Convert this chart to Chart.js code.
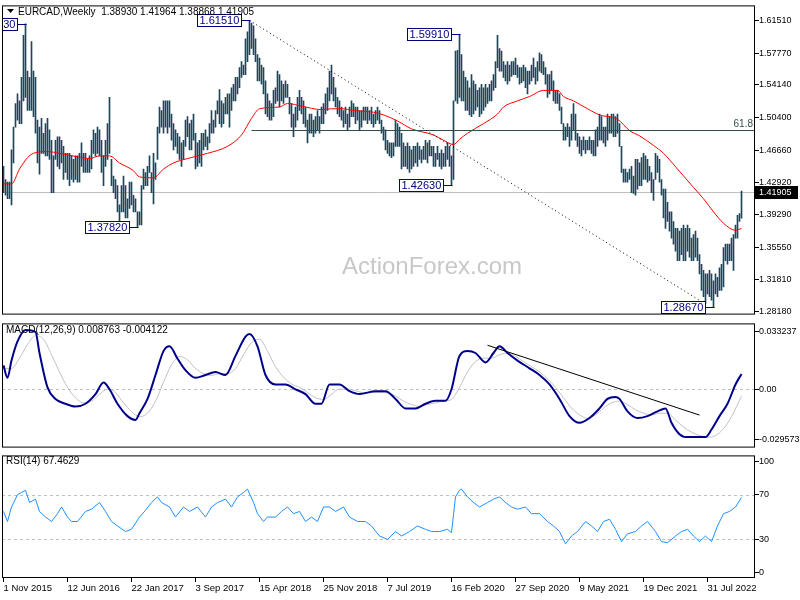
<!DOCTYPE html>
<html>
<head>
<meta charset="utf-8">
<script src="https://cdn.jsdelivr.net/npm/chart.js@4"></script>
<style>
  html, body { margin: 0; padding: 0; background: #fff; }
  #wrap { position: relative; width: 800px; height: 600px; overflow: hidden; }
  canvas { position: absolute; left: 0; }
</style>
</head>
<body>
<div id="wrap">
  <canvas id="priceChart" width="800" height="320" style="top:0"></canvas>
  <canvas id="macdChart" width="800" height="135" style="top:318px"></canvas>
  <canvas id="rsiChart" width="800" height="150" style="top:450px"></canvas>
</div>
<script>
"use strict";

// ---------------- DATA ----------------
// weekly bars, Nov 2015 .. Nov 2022 (bar index 0..369)
const highs = [
  1.448,1.433,1.430,1.430,1.467,1.493,1.520,1.531,1.523,1.550,
  1.598,1.6113,1.557,1.550,1.591,1.557,1.550,1.501,1.493,1.503,
  1.486,1.497,1.503,1.490,1.478,1.460,1.478,1.482,1.482,1.478,
  1.471,1.463,1.463,1.463,1.460,1.456,1.460,1.460,1.463,1.475,
  1.463,1.463,1.456,1.460,1.478,1.490,1.486,1.493,1.490,1.478,
  1.460,1.478,1.497,1.527,1.456,1.437,1.433,1.426,1.404,1.426,
  1.437,1.426,1.411,1.430,1.430,1.415,1.411,1.396,1.396,1.426,
  1.445,1.441,1.448,1.460,1.441,1.463,1.452,1.493,1.516,1.512,
  1.523,1.523,1.523,1.523,1.508,1.497,1.490,1.486,1.482,1.475,
  1.478,1.501,1.505,1.497,1.501,1.508,1.486,1.475,1.478,1.486,
  1.486,1.490,1.482,1.497,1.512,1.501,1.512,1.523,1.536,1.523,
  1.520,1.527,1.531,1.531,1.538,1.542,1.550,1.550,1.561,1.568,
  1.564,1.594,1.602,1.6151,1.612,1.609,1.594,1.576,1.572,1.564,
  1.561,1.546,1.531,1.523,1.520,1.535,1.538,1.557,1.553,1.546,
  1.542,1.546,1.542,1.527,1.520,1.508,1.516,1.527,1.535,1.527,
  1.523,1.516,1.501,1.508,1.508,1.501,1.505,1.512,1.505,1.516,
  1.520,1.531,1.538,1.557,1.564,1.550,1.538,1.527,1.523,1.516,
  1.512,1.516,1.508,1.516,1.523,1.520,1.516,1.516,1.512,1.512,
  1.516,1.516,1.516,1.512,1.516,1.508,1.512,1.516,1.512,1.501,
  1.493,1.490,1.478,1.475,1.475,1.475,1.501,1.497,1.493,1.486,
  1.475,1.471,1.475,1.471,1.467,1.471,1.471,1.475,1.471,1.467,
  1.471,1.478,1.475,1.478,1.471,1.471,1.463,1.471,1.463,1.467,
  1.463,1.471,1.475,1.471,1.460,1.523,1.580,1.581,1.5991,1.576,
  1.557,1.550,1.546,1.538,1.553,1.546,1.542,1.535,1.538,1.542,
  1.538,1.542,1.538,1.542,1.546,1.553,1.568,1.598,1.583,1.580,
  1.568,1.564,1.568,1.564,1.568,1.568,1.572,1.564,1.561,1.561,
  1.564,1.561,1.557,1.557,1.564,1.572,1.561,1.568,1.578,1.576,
  1.568,1.561,1.553,1.553,1.557,1.546,1.535,1.535,1.531,1.516,
  1.497,1.493,1.497,1.493,1.508,1.520,1.508,1.486,1.482,1.478,
  1.482,1.478,1.478,1.482,1.478,1.478,1.490,1.493,1.508,1.505,
  1.493,1.493,1.508,1.505,1.508,1.508,1.505,1.508,1.497,1.471,
  1.445,1.445,1.441,1.445,1.448,1.437,1.456,1.456,1.452,1.458,
  1.463,1.460,1.456,1.448,1.441,1.433,1.463,1.460,1.456,1.433,
  1.422,1.422,1.407,1.396,1.396,1.385,1.377,1.377,1.374,1.377,
  1.381,1.377,1.381,1.377,1.366,1.370,1.374,1.366,1.347,1.336,
  1.329,1.325,1.325,1.329,1.325,1.317,1.325,1.321,1.332,1.336,
  1.355,1.359,1.359,1.359,1.366,1.370,1.381,1.392,1.394,1.41964
];
const lows = [
  1.418,1.415,1.411,1.411,1.404,1.452,1.493,1.501,1.497,1.497,
  1.523,1.527,1.512,1.512,1.512,1.505,1.486,1.452,1.439,1.463,
  1.463,1.460,1.460,1.456,1.418,1.418,1.456,1.448,1.445,1.452,
  1.433,1.441,1.433,1.426,1.433,1.430,1.433,1.430,1.430,1.448,
  1.441,1.441,1.441,1.441,1.445,1.463,1.460,1.463,1.460,1.441,
  1.426,1.448,1.456,1.463,1.426,1.418,1.411,1.396,1.385,1.396,
  1.396,1.389,1.389,1.400,1.404,1.396,1.396,1.3782,1.381,1.381,
  1.422,1.426,1.426,1.441,1.418,1.405,1.433,1.456,1.486,1.493,
  1.486,1.493,1.486,1.493,1.478,1.467,1.471,1.463,1.456,1.448,
  1.456,1.471,1.482,1.467,1.467,1.478,1.445,1.448,1.452,1.448,
  1.467,1.471,1.467,1.475,1.486,1.486,1.493,1.508,1.497,1.493,
  1.497,1.508,1.508,1.493,1.512,1.523,1.523,1.531,1.538,1.550,
  1.553,1.553,1.568,1.576,1.583,1.576,1.568,1.546,1.546,1.542,
  1.531,1.508,1.505,1.501,1.501,1.505,1.520,1.523,1.516,1.523,
  1.520,1.527,1.527,1.508,1.493,1.482,1.493,1.501,1.512,1.508,
  1.497,1.493,1.475,1.486,1.486,1.482,1.486,1.490,1.486,1.497,
  1.497,1.508,1.512,1.523,1.531,1.523,1.516,1.508,1.505,1.501,
  1.493,1.497,1.490,1.493,1.505,1.505,1.497,1.501,1.490,1.493,
  1.501,1.501,1.497,1.501,1.497,1.493,1.497,1.501,1.497,1.486,
  1.478,1.467,1.463,1.460,1.458,1.460,1.471,1.471,1.471,1.445,
  1.448,1.448,1.445,1.441,1.445,1.448,1.452,1.448,1.456,1.452,
  1.456,1.456,1.452,1.460,1.460,1.448,1.448,1.456,1.448,1.445,
  1.448,1.448,1.456,1.448,1.4263,1.433,1.523,1.520,1.527,1.523,
  1.523,1.512,1.512,1.507,1.505,1.508,1.512,1.516,1.505,1.508,
  1.512,1.516,1.520,1.523,1.523,1.535,1.538,1.561,1.557,1.557,
  1.550,1.546,1.542,1.546,1.551,1.553,1.553,1.550,1.542,1.544,
  1.546,1.538,1.531,1.542,1.546,1.550,1.542,1.546,1.557,1.555,
  1.553,1.542,1.527,1.531,1.535,1.523,1.520,1.520,1.512,1.497,
  1.478,1.478,1.482,1.471,1.478,1.490,1.478,1.471,1.463,1.460,
  1.467,1.463,1.467,1.467,1.463,1.460,1.460,1.471,1.478,1.478,
  1.475,1.471,1.478,1.486,1.486,1.482,1.482,1.486,1.471,1.441,
  1.430,1.430,1.430,1.433,1.418,1.417,1.415,1.422,1.426,1.426,
  1.433,1.433,1.430,1.432,1.418,1.409,1.433,1.441,1.430,1.415,
  1.389,1.377,1.385,1.374,1.366,1.359,1.351,1.340,1.340,1.347,
  1.340,1.340,1.351,1.344,1.340,1.340,1.344,1.340,1.325,1.306,
  1.299,1.291,1.302,1.299,1.295,1.2867,1.302,1.299,1.306,1.306,
  1.310,1.340,1.336,1.340,1.340,1.329,1.366,1.366,1.385,1.38868
];

// moving average (red)
const maIdx = [0,4,8,12,15,22,28,37,43,48,53,58,65,68,75,80,85,92,102,112,
  119,124,128,138,142,149,159,164,169,175,185,190,197,204,215,220,225,228,232,240,
  247,250,257,263,270,277,280,285,292,298,307,313,318,325,330,337,345,350,355,360,366,369];
const maVal = [1.428,1.428,1.445,1.458,1.463,1.465,1.463,1.459,1.457,1.460,
  1.460,1.452,1.443,1.436,1.435,1.445,1.452,1.457,1.463,1.471,
  1.484,1.503,1.514,1.516,1.520,1.517,1.513,1.514,1.514,1.512,
  1.510,1.507,1.500,1.491,1.484,1.478,1.473,1.479,1.486,1.497,
  1.508,1.516,1.523,1.528,1.535,1.535,1.528,1.523,1.514,1.507,
  1.502,1.489,1.483,1.472,1.463,1.445,1.424,1.411,1.396,1.383,1.375,1.377];

// MACD(12,26,9)
const macdIdx = [0,2,4,7,11,16,18,22,26,31,36,41,46,50,53,57,62,66,68,72,
  76,80,83,87,91,96,101,106,111,116,121,123,127,131,136,141,146,151,156,159,
  163,168,173,178,186,191,196,201,206,211,216,221,224,228,232,236,241,245,248,252,
  257,263,268,273,278,283,288,293,298,302,306,308,312,317,322,327,331,334,338,342,
  346,351,354,358,362,366,369];
const macdMain = [0.0138,0.0066,0.0166,0.0277,0.0344,0.0332,0.0210,0.0010,-0.0057,-0.0085,
  -0.0101,-0.0085,-0.0029,0.0038,-0.0001,-0.0085,-0.0157,-0.0179,-0.0140,-0.0057,
  0.0082,0.0221,0.0249,0.0177,0.0110,0.0066,0.0082,0.0099,0.0082,0.0193,
  0.0305,0.0321,0.0249,0.0082,0.0027,0.0027,-0.0001,-0.0029,-0.0085,-0.0085,
  0.0027,0.0027,-0.0012,-0.0029,-0.0012,-0.0012,-0.0057,-0.0112,-0.0112,-0.0085,
  -0.0068,-0.0068,-0.0001,0.0193,0.0221,0.0210,0.0155,0.0210,0.0249,0.0210,
  0.0166,0.0121,0.0082,0.0027,-0.0057,-0.0157,-0.0196,-0.0168,-0.0112,-0.0057,
  -0.0046,-0.0057,-0.0129,-0.0168,-0.0157,-0.0129,-0.0112,-0.0196,-0.0262,-0.0279,
  -0.0279,-0.0279,-0.0235,-0.0157,-0.0085,0.0027,0.008763];
const signalIdx = [0,4,8,12,16,20,24,28,32,36,40,44,48,52,56,60,64,68,72,76,
  80,84,88,92,96,100,104,108,112,116,120,124,128,132,136,140,144,148,152,156,
  160,164,168,172,176,180,184,188,192,196,200,204,208,212,216,220,224,228,232,236,
  240,244,248,252,256,260,264,268,272,276,280,284,288,292,296,300,304,308,312,316,
  320,324,328,332,336,340,344,348,352,356,360,364,369];
const signalVal = [0.012,0.012,0.018,0.026,0.031,0.029,0.020,0.010,0.001,-0.005,
  -0.008,-0.007,-0.003,0.000,-0.002,-0.008,-0.013,-0.016,-0.014,-0.007,
  0.004,0.014,0.019,0.017,0.012,0.009,0.008,0.009,0.009,0.012,
  0.020,0.027,0.029,0.022,0.013,0.007,0.003,0.001,-0.002,-0.005,
  -0.006,-0.003,0.000,0.000,-0.001,-0.002,-0.002,-0.002,-0.002,-0.004,
  -0.007,-0.009,-0.010,-0.009,-0.008,-0.007,-0.006,0.001,0.010,0.016,
  0.018,0.018,0.020,0.021,0.019,0.016,0.013,0.010,0.006,0.001,
  -0.005,-0.011,-0.015,-0.017,-0.015,-0.011,-0.008,-0.007,-0.009,-0.012,
  -0.014,-0.015,-0.014,-0.014,-0.018,-0.022,-0.025,-0.027,-0.028,-0.027,
  -0.023,-0.016,-0.004122];

// RSI(14)
const rsiIdx = [0,2,4,7,9,11,13,16,18,21,24,27,29,32,34,37,41,44,48,51,
  54,57,61,64,68,71,74,77,79,83,86,90,93,97,101,104,107,111,114,117,
  120,122,125,127,130,132,136,139,142,145,148,151,154,157,160,163,166,170,173,177,
  181,184,188,192,196,199,203,207,211,214,218,222,224,225,226,228,229,232,235,238,
  242,245,248,251,254,257,261,264,268,272,275,278,281,284,287,291,294,297,300,303,
  306,309,312,316,319,322,326,329,332,336,339,342,345,348,351,354,357,360,363,366,369];
const rsiVal = [55,46,59,70,72,74,63,66,55,50,46,53,59,50,46,46,55,57,63,55,
  46,42,37,39,50,56,63,68,63,59,50,59,55,59,50,59,63,66,59,68,
  72,75,63,53,46,50,50,55,59,53,55,46,50,46,59,59,55,59,50,46,
  46,42,33,30,37,33,37,42,39,37,37,39,36,52,68,74,75,68,63,59,
  63,66,68,63,59,57,59,53,53,46,42,37,26,33,37,46,42,37,46,48,
  39,28,35,37,42,46,37,28,27,33,37,39,33,28,33,28,42,53,55,59,67.4629];

// axis ticks
const priceTicks = [1.6151,1.5777,1.5414,1.504,1.4666,1.4292,1.3929,1.3555,1.3181,1.2818];
const macdTicks = [0.033237, 0, -0.029573];
const rsiTicks = [100, 70, 30, 0];
const rsiLevels = [70, 30];
const dateTickIdx = [0,32,64,96,128,160,192,224,256,288,320,352];
const dateLabels = ["1 Nov 2015","12 Jun 2016","22 Jan 2017","3 Sep 2017","15 Apr 2018","25 Nov 2018",
  "7 Jul 2019","16 Feb 2020","27 Sep 2020","9 May 2021","19 Dec 2021","31 Jul 2022"];

// annotations
const peakText = ["1.61130","1.61510","1.59910","1.42630","1.37820","1.28670"];
const peakIdx = [11,123,228,224,67,355];
const peakVal = [1.6113,1.6151,1.5991,1.4263,1.3782,1.2867];
const trendFrom = [123, 1.6151];
const trendTo = [352, 1.289];
const fibFromIdx = 124;
const fibLevel = 1.4896;
const lastOpen = 1.3893, lastHigh = 1.41964, lastLow = 1.38868, lastClose = 1.41905;
const macdTrendFrom = [242, 0.0255];
const macdTrendTo = [348, -0.0151];

// ---------------- SETUP ----------------
const FONT = "'Liberation Sans', Arial, sans-serif";
Chart.defaults.font.family = FONT;
Chart.defaults.font.size = 10;
Chart.defaults.color = "#000";
Chart.defaults.animation = false;

const X_MIN = -0.75, X_MAX = 375.75;
const BAR_COLOR = "#1e4659";

const pts = (idx, vals) => idx.map((x, k) => ({ x, y: vals[k] }));

const framePlugin = {
  id: "frame",
  afterDraw(chart) {
    const { ctx, chartArea: a } = chart;
    ctx.save();
    ctx.strokeStyle = "#000";
    ctx.lineWidth = 1;
    ctx.strokeRect(a.left + 0.5, a.top + 0.5, a.right - a.left - 1, a.bottom - a.top - 1);
    ctx.restore();
  },
};

function hiddenX() {
  return { type: "linear", min: X_MIN, max: X_MAX, offset: false, display: false };
}

function rightY(min, max, ticks, fmt) {
  return {
    type: "linear",
    position: "right",
    min,
    max,
    afterFit: (s) => { s.width = 45; },
    afterBuildTicks: (s) => { s.ticks = ticks.map((v) => ({ value: v })); },
    ticks: { autoSkip: false, padding: 0, callback: fmt, font: { size: 9 } },
    grid: { drawOnChartArea: false, drawTicks: true, tickLength: 4, color: "#000" },
    border: { display: false },
  };
}

function hLine(ctx, a, py, color, dash) {
  ctx.save();
  ctx.strokeStyle = color;
  ctx.lineWidth = 1;
  ctx.setLineDash(dash || []);
  ctx.beginPath();
  ctx.moveTo(a.left, Math.round(py) + 0.5);
  ctx.lineTo(a.right, Math.round(py) + 0.5);
  ctx.stroke();
  ctx.restore();
}

// ---------------- PRICE PANEL ----------------
const pricePlugin = {
  id: "priceNotes",
  beforeDatasetsDraw(chart) {
    const { ctx, chartArea: a, scales: { y } } = chart;
    ctx.save();
    ctx.fillStyle = "#c8c8c8";
    ctx.font = "24px " + FONT;
    ctx.textAlign = "center";
    ctx.textBaseline = "middle";
    ctx.fillText("ActionForex.com", 432, 267);
    ctx.restore();
    hLine(ctx, a, y.getPixelForValue(lastClose), "#c0c0c0");
  },
  afterDatasetsDraw(chart) {
    const { ctx, chartArea: a, scales: { x, y } } = chart;
    ctx.save();
    ctx.beginPath();
    ctx.rect(a.left, a.top, a.right - a.left, a.bottom - a.top);
    ctx.clip();

    // 61.8 retracement
    const fy = Math.round(y.getPixelForValue(fibLevel)) + 0.5;
    ctx.strokeStyle = "#2f4f4f";
    ctx.beginPath();
    ctx.moveTo(x.getPixelForValue(fibFromIdx), fy);
    ctx.lineTo(a.right, fy);
    ctx.stroke();
    ctx.fillStyle = "#2f4f4f";
    ctx.font = "10px " + FONT;
    ctx.textAlign = "right";
    ctx.textBaseline = "bottom";
    ctx.fillText("61.8", a.right - 2, fy - 1);

    // dotted trend line
    ctx.strokeStyle = "#000";
    ctx.setLineDash([1, 3]);
    ctx.beginPath();
    ctx.moveTo(x.getPixelForValue(trendFrom[0]), y.getPixelForValue(trendFrom[1]));
    ctx.lineTo(x.getPixelForValue(trendTo[0]), y.getPixelForValue(trendTo[1]));
    ctx.stroke();
    ctx.setLineDash([]);

    // swing labels
    ctx.font = "11px " + FONT;
    ctx.textAlign = "left";
    ctx.textBaseline = "middle";
    peakText.forEach((t, k) => {
      const px = Math.round(x.getPixelForValue(peakIdx[k]));
      const py = Math.round(y.getPixelForValue(peakVal[k]));
      const w = Math.round(ctx.measureText(t).width) + 4;
      const bx = px - 9 - w;
      const by = py - 6;
      ctx.fillStyle = "#fff";
      ctx.fillRect(bx, by, w, 12);
      ctx.strokeStyle = "#000080";
      ctx.strokeRect(bx + 0.5, by + 0.5, w, 12);
      ctx.beginPath();
      ctx.moveTo(bx + w + 0.5, py + 0.5);
      ctx.lineTo(px + 0.5, py + 0.5);
      ctx.stroke();
      ctx.fillStyle = "#000080";
      ctx.fillText(t, bx + 2.5, py + 1);
    });
    ctx.restore();
  },
  afterDraw(chart) {
    const { ctx, chartArea: a, scales: { y } } = chart;
    ctx.save();
    // header
    ctx.fillStyle = "#000";
    ctx.beginPath();
    ctx.moveTo(7, 9);
    ctx.lineTo(14, 9);
    ctx.lineTo(10.5, 13);
    ctx.closePath();
    ctx.fill();
    ctx.font = "10px " + FONT;
    ctx.textBaseline = "alphabetic";
    ctx.fillText("EURCAD,Weekly  " + [lastOpen, lastHigh, lastLow, lastClose].map((v) => v.toFixed(5)).join(" "), 18, 15);
    // last price tag
    const py = Math.round(y.getPixelForValue(lastClose));
    ctx.fillStyle = "#000";
    ctx.fillRect(a.right, py - 6, 43, 13);
    ctx.fillStyle = "#fff";
    ctx.font = "9px " + FONT;
    ctx.textBaseline = "middle";
    ctx.fillText(lastClose.toFixed(5), a.right + 4, py + 1);
    ctx.restore();
  },
};

new Chart(document.getElementById("priceChart"), {
  type: "bar",
  data: {
    datasets: [
      {
        type: "line",
        data: pts(maIdx, maVal),
        borderColor: "#ff0000",
        borderWidth: 1,
        pointRadius: 0,
        cubicInterpolationMode: "monotone",
      },
      {
        type: "bar",
        data: highs.map((h, i) => ({ x: i, y: [lows[i], h] })),
        backgroundColor: BAR_COLOR,
        borderWidth: 0,
        barThickness: 1,
        grouped: false,
      },
    ],
  },
  options: {
    responsive: false,
    layout: { padding: { left: 2, top: 3, bottom: 2, right: 0 } },
    plugins: { legend: { display: false }, tooltip: { enabled: false } },
    scales: {
      x: hiddenX(),
      y: rightY(1.2784, 1.6323, priceTicks, (v) => v.toFixed(5)),
    },
  },
  plugins: [pricePlugin, framePlugin],
});

// ---------------- MACD PANEL ----------------
const macdPlugin = {
  id: "macdNotes",
  beforeDatasetsDraw(chart) {
    const { ctx, chartArea: a, scales: { y } } = chart;
    hLine(ctx, a, y.getPixelForValue(0), "#c0c0c0", [3, 3]);
  },
  afterDatasetsDraw(chart) {
    const { ctx, scales: { x, y } } = chart;
    ctx.save();
    ctx.strokeStyle = "#000";
    ctx.lineWidth = 1;
    ctx.beginPath();
    ctx.moveTo(x.getPixelForValue(macdTrendFrom[0]), y.getPixelForValue(macdTrendFrom[1]));
    ctx.lineTo(x.getPixelForValue(macdTrendTo[0]), y.getPixelForValue(macdTrendTo[1]));
    ctx.stroke();
    ctx.fillStyle = "#000";
    ctx.font = "10px " + FONT;
    ctx.textBaseline = "middle";
    ctx.fillText("MACD(12,26,9) 0.008763 -0.004122", 6, 12);
    ctx.restore();
  },
};

new Chart(document.getElementById("macdChart"), {
  type: "line",
  data: {
    datasets: [
      {
        data: pts(macdIdx, macdMain),
        borderColor: "#00008b",
        borderWidth: 2,
        pointRadius: 0,
        cubicInterpolationMode: "monotone",
      },
      {
        data: pts(signalIdx, signalVal),
        borderColor: "#c0c0c0",
        borderWidth: 1,
        pointRadius: 0,
        cubicInterpolationMode: "monotone",
      },
    ],
  },
  options: {
    responsive: false,
    layout: { padding: { left: 2, top: 3, bottom: 2, right: 0 } },
    plugins: { legend: { display: false }, tooltip: { enabled: false } },
    scales: {
      x: hiddenX(),
      y: rightY(-0.034, 0.0382, macdTicks, (v) => (v === 0 ? "0.00" : String(v))),
    },
  },
  plugins: [macdPlugin, framePlugin],
});

// ---------------- RSI PANEL ----------------
const rsiPlugin = {
  id: "rsiNotes",
  beforeDatasetsDraw(chart) {
    const { ctx, chartArea: a, scales: { y } } = chart;
    rsiLevels.forEach((lv) => hLine(ctx, a, y.getPixelForValue(lv), "#c0c0c0", [3, 3]));
  },
  afterDatasetsDraw(chart) {
    const { ctx } = chart;
    ctx.save();
    ctx.fillStyle = "#000";
    ctx.font = "10px " + FONT;
    ctx.textBaseline = "middle";
    ctx.fillText("RSI(14) " + rsiVal[rsiVal.length - 1].toFixed(4), 6, 11);
    ctx.restore();
  },
};

new Chart(document.getElementById("rsiChart"), {
  type: "line",
  data: {
    datasets: [
      {
        data: pts(rsiIdx, rsiVal),
        borderColor: "#1e90ff",
        borderWidth: 1,
        pointRadius: 0,
      },
    ],
  },
  options: {
    responsive: false,
    layout: { padding: { left: 2, top: 3, bottom: 0, right: 0 } },
    plugins: { legend: { display: false }, tooltip: { enabled: false } },
    scales: {
      x: {
        type: "linear",
        min: X_MIN,
        max: X_MAX,
        offset: false,
        afterFit: (s) => { s.height = 22; },
        afterBuildTicks: (s) => { s.ticks = dateTickIdx.map((v) => ({ value: v })); },
        ticks: {
          autoSkip: false,
          maxRotation: 0,
          align: "start",
          padding: 1,
          font: { size: 9.5 },
          callback: (v) => dateLabels[dateTickIdx.indexOf(v)],
        },
        grid: { drawOnChartArea: false, drawTicks: true, tickLength: 4, color: "#000" },
        border: { display: false },
      },
      y: rightY(-4.6, 105.2, rsiTicks, (v) => String(v)),
    },
  },
  plugins: [rsiPlugin, framePlugin],
});
</script>
</body>
</html>
